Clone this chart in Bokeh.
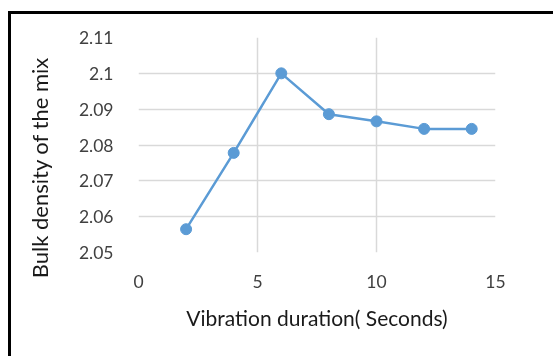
from bokeh.plotting import figure
from bokeh.models import FixedTicker, CustomJSTickFormatter, Range1d
from bokeh.embed import file_html
from bokeh.resources import INLINE

durations = [2, 4, 6, 8, 10, 12, 14]
bulk_density = [2.0565, 2.0778, 2.1, 2.0886, 2.0866, 2.0845, 2.0845]
x_ticks = [0, 5, 10, 15]
y_ticks = [2.05, 2.06, 2.07, 2.08, 2.09, 2.10, 2.11]

FONT = "Lato"
BLUE = "#5B9BD5"

p = figure(width=545, height=345, output_backend="svg", toolbar_location=None,
           x_range=Range1d(0, 15), y_range=Range1d(2.05, 2.11),
           min_border_left=127, min_border_right=61, min_border_top=23, min_border_bottom=107)
p.styles = {"position": "fixed", "left": "8px", "top": "11px",
            "border-left": "3px solid black", "border-top": "3px solid black"}
p.outline_line_color = None
p.background_fill_color = "white"
p.border_fill_color = "white"

p.xaxis.ticker = FixedTicker(ticks=x_ticks)
p.yaxis.ticker = FixedTicker(ticks=y_ticks)
p.yaxis.formatter = CustomJSTickFormatter(code="return tick.toFixed(2).replace(/0$/, '');")

for ax in (p.xaxis[0], p.yaxis[0]):
    ax.axis_line_color = None
    ax.major_tick_line_color = None
    ax.minor_tick_line_color = None
    ax.major_label_text_font = FONT
    ax.major_label_text_font_size = "17.5px"
    ax.major_label_text_color = "#404040"
    ax.axis_label_text_font = FONT
    ax.axis_label_text_font_style = "normal"
    ax.axis_label_text_color = "#1a1a1a"

p.xaxis.axis_label = "Vibration duration( Seconds)"
p.yaxis.axis_label = "Bulk density of the mix" + "\u00a0" * 8
p.xaxis.axis_label_text_font_size = "21px"
p.yaxis.axis_label_text_font_size = "22px"
p.xaxis.major_label_standoff = 16
p.xaxis.axis_label_standoff = 14
p.yaxis.major_label_standoff = 19
p.yaxis.axis_label_standoff = 23

p.xgrid.grid_line_color = "#d9d9d9"
p.ygrid.grid_line_color = "#d9d9d9"
p.xgrid.grid_line_width = 1.5
p.ygrid.grid_line_width = 1.5

p.line(durations, bulk_density, line_color=BLUE, line_width=2.5)
p.scatter(durations, bulk_density, size=11, fill_color=BLUE, line_color=BLUE)

open("out.html", "w").write(file_html(p, INLINE))
